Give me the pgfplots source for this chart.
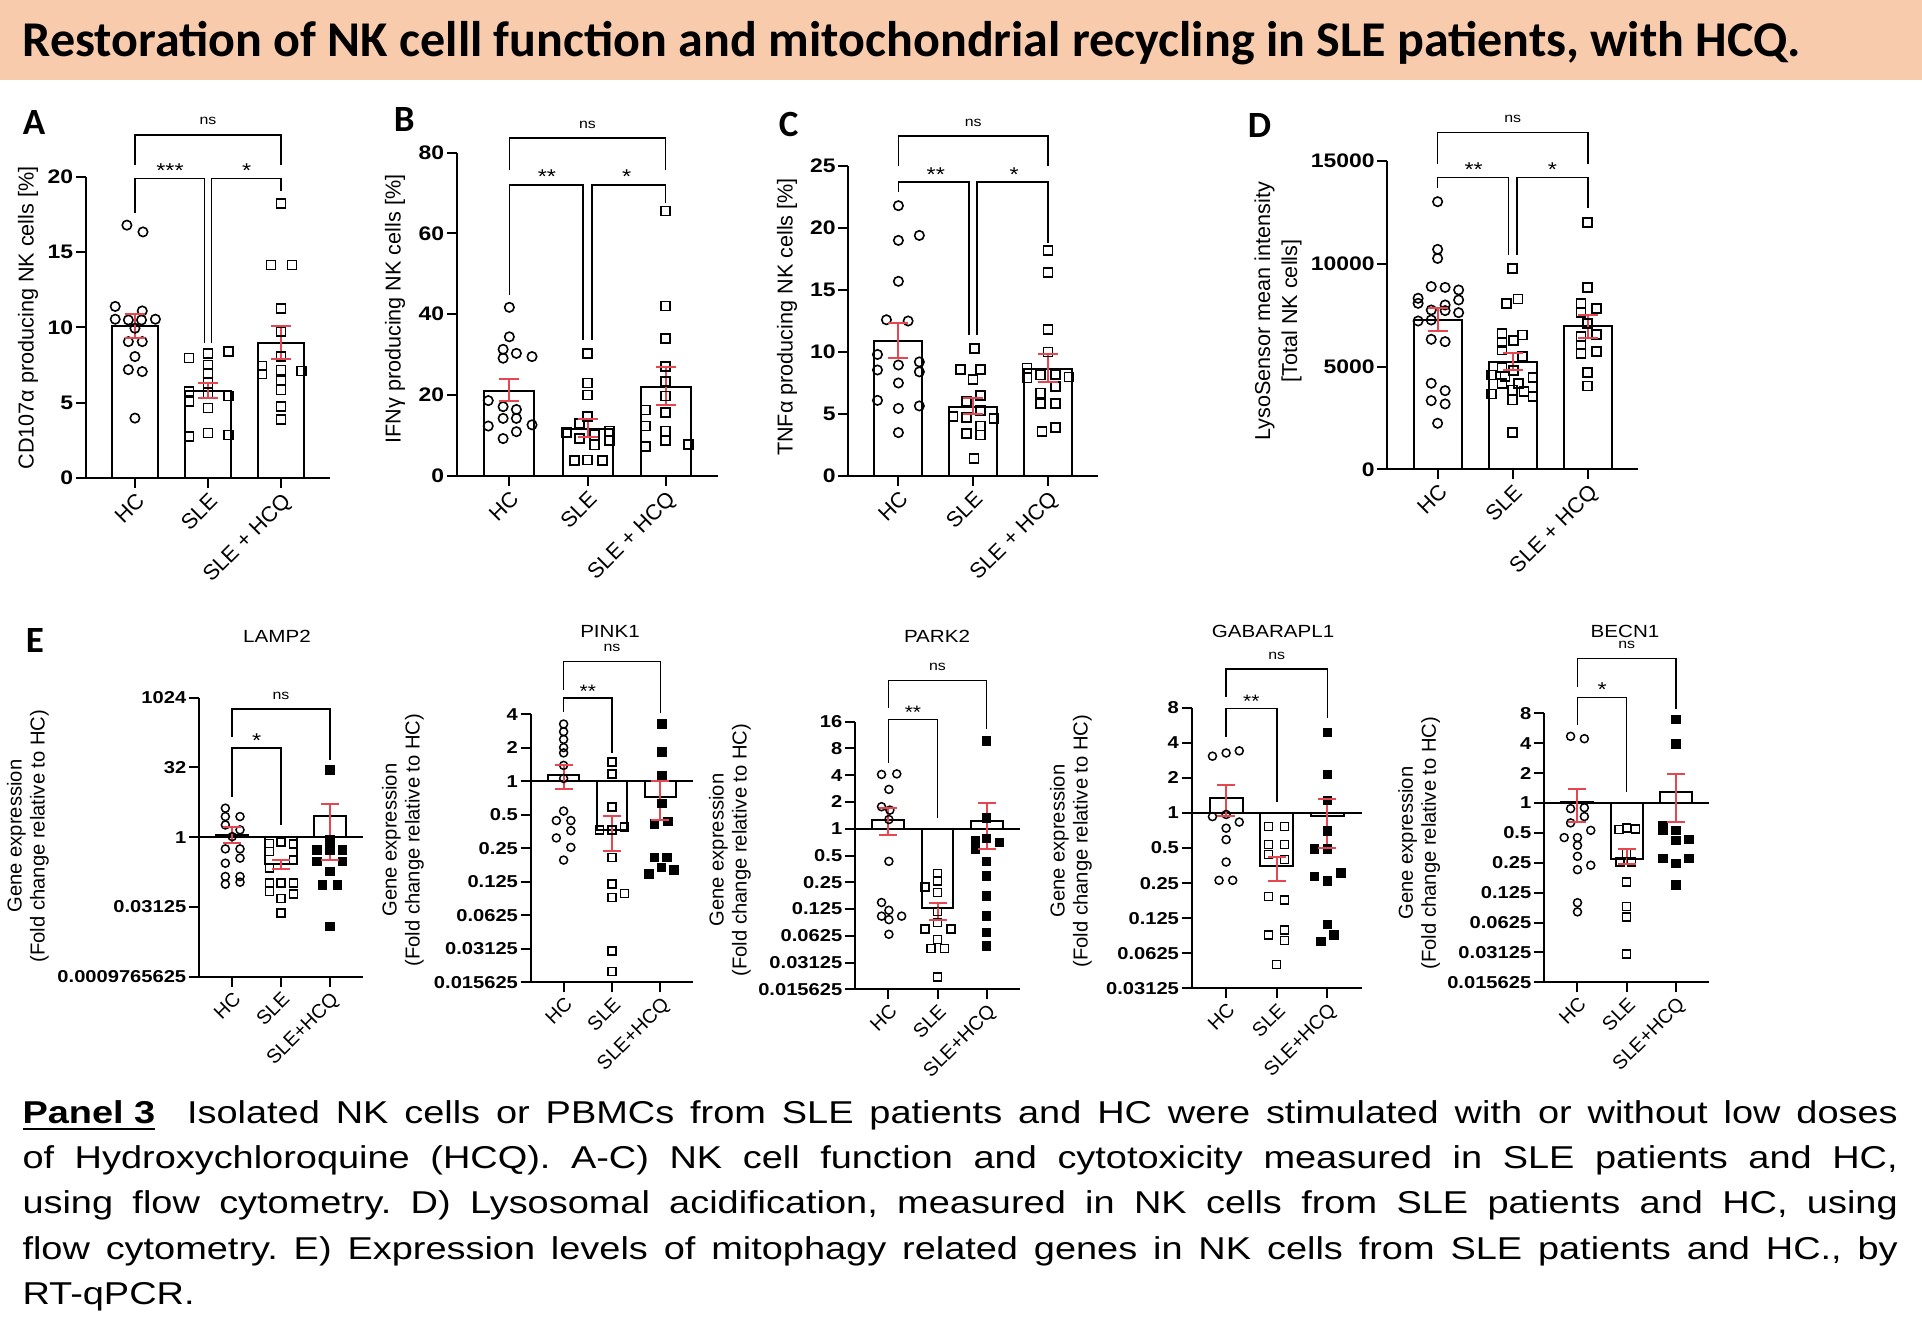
\documentclass[border=0pt]{standalone}
\usepackage{pgfplots}
\pgfplotsset{compat=1.18}
\usepackage{graphicx}
\usepackage{fontspec}
\setmainfont{Liberation Sans}
\newfontfamily\carlito{Carlito}
\newdimen\pp \pp=0.25pt
\definecolor{errred}{RGB}{230,70,80}
\definecolor{peach}{HTML}{F8CBAD}
\newcommand{\sx}[1]{\scalebox{1.17}[1]{#1}}

\tikzset{
  br/.style={line width=1.6\pp, black},
  stars/.style={anchor=base, inner sep=0, yshift=1\pp, font=\fontsize{5pt}{5pt}\selectfont},
  nsl/.style={anchor=base, inner sep=0, yshift=10\pp, font=\fontsize{3.4pt}{4pt}\selectfont},
  lett/.style={anchor=base west, inner sep=0, font=\carlito\bfseries\fontsize{9.25pt}{10pt}\selectfont},
}
\pgfplotsset{
  panel/.style={
    scale only axis, clip=false, anchor=south west,
    axis x line*=bottom, axis y line*=left, tick pos=left,
    axis line style={-, line width=2\pp},
    tick style={black, line width=2\pp},
    tick align=outside, major tick length=10\pp,
    scaled y ticks=false,
    xmin=-0.67, xmax=2.67, xtick={0,1,2},
    xticklabels={HC,SLE,SLE + HCQ},
    yticklabel style={font=\bfseries\fontsize{4.9pt}{5pt}\selectfont, inner sep=2\pp},
    xticklabel style={rotate=45, anchor=north east, inner sep=2\pp, font=\fontsize{5.4pt}{6pt}\selectfont},
  },
  logpanel/.style={
    panel, yminorticks=false,
    xmin=-0.68, xmax=2.68, xticklabels={HC,SLE,SLE+HCQ},
    yticklabel style={font=\bfseries\fontsize{4.3pt}{5pt}\selectfont},
    xticklabel style={font=\fontsize{4.9pt}{5pt}\selectfont},
  },
  bars/.style={ybar, bar width=0.64, bar shift=0pt, draw=black, fill=white, line width=2\pp},
  hc/.style={only marks, mark=o, mark size=4.7\pp, mark options={line width=1.6\pp, black}},
  sq/.style={only marks, mark=square, mark size=4.5\pp, mark options={line width=1.6\pp, black}},
  hce/.style={only marks, mark=o, mark size=4\pp, mark options={line width=1.5\pp, black}},
  sqe/.style={only marks, mark=square, mark size=4\pp, mark options={line width=1.5\pp, black}},
  fsq/.style={only marks, mark=square*, mark size=4\pp, mark options={black, fill=black}},
  eb/.style={errred, line width=2\pp, mark=-, mark size=10\pp, mark options={solid, line width=2\pp}},
  ebe/.style={errred, line width=2\pp, mark=-, mark size=9\pp, mark options={solid, line width=2\pp}},
}

\begin{document}
\begin{tikzpicture}
\begin{scope}[x=0.25pt, y=-0.25pt]
\fill[white] (0,0) rectangle (1922,1324);
\fill[peach] (0,0) rectangle (1922,80);
\node[anchor=base west, inner sep=0] at (22,57) {\resizebox{444.5pt}{!}{\carlito\bfseries\fontsize{12.4pt}{14pt}\selectfont Restoration of NK celll function and mitochondrial recycling in SLE patients, with HCQ.}};
\node[lett] at (22,135) {A};
\node[lett] at (393,132) {B};
\node[lett] at (778,137) {C};
\node[lett] at (1247,138) {D};
\node[lett] at (25,652) {E};
% y labels
\begin{scope}[every node/.style={rotate=90, align=center, inner sep=0, font=\fontsize{5.4pt}{6.7pt}\selectfont}]
\node at (28,318) {CD107α producing NK cells {[}\%{]}};
\node at (395,309) {IFNγ producing NK cells {[}\%{]}};
\node at (787,317) {TNFα producing NK cells {[}\%{]}};
\node at (1278,311) {LysoSensor mean intensity\\{[}Total NK cells{]}};
\end{scope}
\begin{scope}[every node/.style={rotate=90, align=center, inner sep=0, font=\fontsize{5.05pt}{5.75pt}\selectfont}]
\node at (28,836) {Gene expression\\(Fold change relative to HC)};
\node at (403,840) {Gene expression\\(Fold change relative to HC)};
\node at (730,850) {Gene expression\\(Fold change relative to HC)};
\node at (1071,841) {Gene expression\\(Fold change relative to HC)};
\node at (1419,843) {Gene expression\\(Fold change relative to HC)};
\end{scope}
\begin{scope}[every node/.style={anchor=base, inner sep=0, font=\fontsize{4.4pt}{5pt}\selectfont}]
\node at (277,642) {\sx{LAMP2}};
\node at (610,637) {\sx{PINK1}};
\node at (937,642) {\sx{PARK2}};
\node at (1273,637) {\sx{GABARAPL1}};
\node at (1625,637) {\sx{BECN1}};
\end{scope}
\node[anchor=base west, inner sep=0] at (21.7,1123) {\scalebox{1.2}[1]{\parbox[t]{390.7pt}{\fontsize{7.9pt}{11.35pt}\selectfont\frenchspacing\hyphenpenalty=10000 \underline{\textbf{Panel 3}}\ \ Isolated NK cells or PBMCs from SLE patients and HC were stimulated with or without low doses\linebreak of Hydroxychloroquine (HCQ). A-C) NK cell function and cytotoxicity measured in SLE patients and HC,\linebreak using flow cytometry. D) Lysosomal acidification, measured in NK cells from SLE patients and HC, using\linebreak flow cytometry. E) Expression levels of mitophagy related genes in NK cells from SLE patients and HC., by\linebreak RT-qPCR.}}};
\end{scope}

% ---------- A ----------
\begin{axis}[panel, at={(86\pp,-478\pp)}, width=244\pp, height=301\pp,
  ymin=0, ymax=20, ytick={0,5,10,15,20}, yticklabels={\sx{0},\sx{5},\sx{10},\sx{15},\sx{20}}]
\addplot[bars] coordinates {(0,10.1) (1,5.8) (2,9.0)};
\addplot[hc] coordinates {(-0.11,16.8) (0.11,16.35) (-0.27,11.4) (0.10,11.1) (-0.27,10.55) (-0.09,10.5) (0.09,10.5) (0.28,10.55) (0,9.95) (-0.09,9.06) (0.1,9.06) (0,8.07) (-0.09,7.2) (0.1,7.07) (0,3.98)};
\addplot[sq] coordinates {(0.74,7.96) (1,8.29) (1.28,8.4) (1,7.5) (1,6.96) (1,6.3) (0.74,5.75) (0.74,5.08) (1,5.64) (1.28,5.46) (1,4.64) (0.74,2.76) (1,2.98) (1.28,2.87)};
\addplot[sq] coordinates {(2,18.23) (1.86,14.14) (2.15,14.14) (2,11.27) (2,9.72) (2,8.07) (1.74,7.45) (1.74,6.92) (2,7.18) (2.28,7.12) (2,6.47) (2,5.86) (2,4.75) (2,3.87)};
\addplot[eb] coordinates {(0,9.3) (0,10.9)};
\addplot[eb] coordinates {(1,5.3) (1,6.3)};
\addplot[eb] coordinates {(2,7.9) (2,10.1)};
\draw[br] (axis cs:0,17.6) |- (axis cs:0.95,19.9) -- (axis cs:0.95,9);
\draw[br] (axis cs:1.05,9) |- (axis cs:2,19.9) -- (axis cs:2,19.1);
\draw[br] (axis cs:0,20.8) |- (axis cs:2,22.8) -- (axis cs:2,20.8);
\node[stars] at (axis cs:0.48,19.9) {\sx{***}};
\node[stars] at (axis cs:1.53,19.9) {\sx{*}};
\node[nsl] at (axis cs:1,22.8) {\sx{ns}};
\end{axis}

% ---------- B ----------
\begin{axis}[panel, at={(457\pp,-475.7\pp)}, width=261\pp, height=323\pp,
  ymin=0, ymax=80, ytick={0,20,40,60,80}, yticklabels={\sx{0},\sx{20},\sx{40},\sx{60},\sx{80}}]
\addplot[bars] coordinates {(0,21) (1,11.5) (2,22)};
\addplot[hc] coordinates {(0,41.7) (0,34.4) (-0.08,31.3) (-0.08,29.1) (0.09,30.3) (0.29,29.5) (-0.27,18.6) (-0.08,17.1) (0.09,16.4) (-0.08,14.2) (-0.27,12.3) (0.09,14.2) (0.29,12.6) (0.09,10.9) (-0.08,9.2)};
\addplot[sq] coordinates {(1,30.3) (1,23) (1,20) (1,14.6) (0.9,13) (0.73,10.7) (0.9,9.25) (1.09,10.1) (1.28,11.1) (1.28,8.7) (1.09,7.6) (0.83,3.7) (1,3.9) (1.19,3.7)};
\addplot[sq] coordinates {(2,65.6) (2,42) (2,34) (2,27) (2,23.3) (2,19.7) (2,15.6) (1.74,16.3) (1.74,12.3) (2,11.1) (2,8.7) (1.74,7.3) (2.29,7.8)};
\addplot[eb] coordinates {(0,18.5) (0,24)};
\addplot[eb] coordinates {(1,9.5) (1,14)};
\addplot[eb] coordinates {(2,17.5) (2,27)};
\draw[br] (axis cs:0,44.8) |- (axis cs:0.945,72) -- (axis cs:0.945,33.6);
\draw[br] (axis cs:1.055,33.6) |- (axis cs:2,72) -- (axis cs:2,67.5);
\draw[br] (axis cs:0,75.7) |- (axis cs:2,83.6) -- (axis cs:2,75.7);
\node[stars] at (axis cs:0.48,72) {\sx{**}};
\node[stars] at (axis cs:1.5,72) {\sx{*}};
\node[nsl] at (axis cs:1,83.6) {\sx{ns}};
\end{axis}

% ---------- C ----------
\begin{axis}[panel, at={(848.3\pp,-476\pp)}, width=249.7\pp, height=310\pp,
  ymin=0, ymax=25, ytick={0,5,10,15,20,25}, yticklabels={\sx{0},\sx{5},\sx{10},\sx{15},\sx{20},\sx{25}}]
\addplot[bars] coordinates {(0,10.9) (1,5.6) (2,8.6)};
\addplot[hc] coordinates {(0,21.8) (0,19) (0.28,19.4) (0,15.7) (-0.16,12.6) (0.13,12.5) (-0.28,9.8) (-0.28,8.55) (0,8.95) (0.28,9.2) (0.28,8.4) (0,7.5) (-0.28,6.1) (0,5.45) (0.28,5.65) (0,3.5)};
\addplot[sq] coordinates {(1.02,10.3) (0.83,8.6) (1.1,8.6) (1,7.8) (1.1,6.5) (0.91,6.0) (1.1,5.3) (0.73,4.8) (0.91,4.73) (1.28,4.65) (0.91,3.44) (1.1,3.3) (1.1,4.03) (1.01,1.42)};
\addplot[sq] coordinates {(2,18.2) (2,16.4) (2,11.8) (2,10) (1.72,8.7) (1.72,7.9) (1.9,8.15) (2.1,8.2) (2.28,8.0) (2.1,7.2) (1.9,6.7) (1.9,5.86) (2.1,5.86) (1.92,3.6) (2.1,3.9)};
\addplot[eb] coordinates {(0,9.5) (0,12.3)};
\addplot[eb] coordinates {(1,5.0) (1,6.3)};
\addplot[eb] coordinates {(2,7.6) (2,9.8)};
\draw[br] (axis cs:0,22.9) |- (axis cs:0.946,23.7) -- (axis cs:0.946,11.4);
\draw[br] (axis cs:1.054,11.4) |- (axis cs:2,23.7) -- (axis cs:2,18.8);
\draw[br] (axis cs:0,25.0) |- (axis cs:2,27.4) -- (axis cs:2,25.0);
\node[stars] at (axis cs:0.5,23.7) {\sx{**}};
\node[stars] at (axis cs:1.55,23.7) {\sx{*}};
\node[nsl] at (axis cs:1,27.4) {\sx{ns}};
\end{axis}

% ---------- D ----------
\begin{axis}[panel, at={(1387.3\pp,-469.3\pp)}, width=250.7\pp, height=308.3\pp,
  ymin=0, ymax=15000, ytick={0,5000,10000,15000}, yticklabels={\sx{0},\sx{5000},\sx{10000},\sx{15000}}]
\addplot[bars] coordinates {(0,7270) (1,5200) (2,6950)};
\addplot[hc] coordinates {(0,13020) (0,10700) (0,10260) (-0.26,8320) (-0.26,8075) (-0.085,8890) (0.1,8850) (0.28,8725) (0.28,8240) (0.1,7995) (-0.085,7750) (0.1,7720) (0.28,7620) (-0.26,7215) (-0.085,7265) (-0.085,6325) (0.1,6210) (-0.085,4185) (0.1,3825) (-0.085,3340) (0.1,3180) (0,2240)};
\addplot[sq] coordinates {(1,9780) (0.92,8075) (1.07,8290) (0.86,6615) (1.13,6535) (0.86,6180) (1.01,6260) (0.86,5805) (1.13,5480) (0.86,4945) (1.01,4800) (0.72,4590) (0.9,4510) (1.27,4475) (0.86,4185) (1.08,4185) (0.72,3665) (1,3860) (1.15,3780) (1.27,3535) (1,3375) (1,1785)};
\addplot[sq] coordinates {(2,12015) (2,8840) (1.91,8075) (2.12,7830) (1.91,7620) (2,7100) (1.91,6455) (2.12,6565) (1.91,6050) (1.91,5640) (2.12,5725) (2,4700) (2,4055)};
\addplot[eb] coordinates {(0,6745) (0,7830)};
\addplot[eb] coordinates {(1,4830) (1,5640)};
\addplot[eb] coordinates {(2,6370) (2,7510)};
\draw[br] (axis cs:0,13670) |- (axis cs:0.944,14200) -- (axis cs:0.944,10430);
\draw[br] (axis cs:1.056,10430) |- (axis cs:2,14200) -- (axis cs:2,12700);
\draw[br] (axis cs:0,14850) |- (axis cs:2,16380) -- (axis cs:2,14850);
\node[stars] at (axis cs:0.48,14200) {\sx{**}};
\node[stars] at (axis cs:1.53,14200) {\sx{*}};
\node[nsl] at (axis cs:1,16380) {\sx{ns}};
\end{axis}

% ---------- E1 LAMP2 ----------
\begin{axis}[logpanel, ymode=log, log basis y=2, log origin y=0,
  at={(199\pp,-976.7\pp)}, width=164\pp, height=279\pp,
  ymin=0.0009765625, ymax=1024, ytick={0.0009765625,0.03125,1,32,1024},
  yticklabels={\sx{0.0009765625},\sx{0.03125},\sx{1},\sx{32},\sx{1024}}]
\addplot[bars, bar width=0.65] coordinates {(0,1.1) (1,0.27) (2,2.8)};
\draw[line width=2\pp] (axis cs:-0.68,1) -- (axis cs:2.68,1);
\addplot[hce] coordinates {(-0.14,4.23) (-0.14,2.79) (0.16,2.79) (-0.14,1.84) (0.16,1.44) (0,1.03) (-0.14,0.56) (0.16,0.56) (0.16,0.354) (-0.14,0.275) (-0.14,0.142) (0.16,0.142) (-0.14,0.097) (0.16,0.107)};
\addplot[sqe] coordinates {(0.76,0.74) (1,0.78) (1.26,0.71) (0.76,0.49) (1.26,0.325) (0.76,0.214) (0.76,0.102) (1,0.102) (1.26,0.102) (0.76,0.067) (1.26,0.06) (1,0.048) (1,0.023)};
\addplot[fsq] coordinates {(2,28.4) (2,0.88) (1.74,0.53) (2,0.53) (2.26,0.53) (1.74,0.30) (2.26,0.30) (2,0.182) (1.85,0.094) (2.16,0.094) (2,0.0118)};
\addplot[ebe] coordinates {(0,0.74) (0,1.64)};
\addplot[ebe] coordinates {(1,0.21) (1,0.32)};
\addplot[ebe] coordinates {(2,0.32) (2,5.2)};
\draw[br] (axis cs:0,7.5) |- (axis cs:1,83) -- (axis cs:1,1.84);
\draw[br] (axis cs:0,149) |- (axis cs:2,580) -- (axis cs:2,46.5);
\node[stars] at (axis cs:0.5,83) {\sx{*}};
\node[nsl] at (axis cs:1,580) {\sx{ns}};
\end{axis}

% ---------- E2 PINK1 ----------
\begin{axis}[logpanel, ymode=log, log basis y=2, log origin y=0,
  at={(530.7\pp,-982.3\pp)}, width=162.6\pp, height=268\pp,
  ymin=0.015625, ymax=4, ytick={0.015625,0.03125,0.0625,0.125,0.25,0.5,1,2,4},
  yticklabels={\sx{0.015625},\sx{0.03125},\sx{0.0625},\sx{0.125},\sx{0.25},\sx{0.5},\sx{1},\sx{2},\sx{4}}]
\addplot[bars, bar width=0.64] coordinates {(0,1.13) (1,0.366) (2,0.73)};
\draw[line width=2\pp] (axis cs:-0.68,1) -- (axis cs:2.68,1);
\addplot[hce] coordinates {(0,3.27) (0,2.79) (0,2.38) (0,2.01) (0,1.8) (0,1.39) (0,1.06) (0,0.54) (-0.15,0.444) (0.15,0.444) (0.15,0.36) (-0.15,0.31) (0.15,0.255) (0,0.196)};
\addplot[sqe] coordinates {(1,1.49) (1,1.16) (1,0.586) (0.74,0.366) (1,0.366) (1.26,0.387) (1,0.207) (1,0.119) (1,0.090) (1.26,0.098) (1,0.0298) (1,0.0196)};
\addplot[fsq] coordinates {(2.03,3.27) (2.03,1.84) (2.03,1.13) (2.03,0.63) (1.88,0.415) (2.16,0.435) (1.88,0.207) (2.14,0.207) (1.76,0.147) (2.02,0.168) (2.28,0.159)};
\addplot[ebe] coordinates {(0,0.85) (0,1.41)};
\addplot[ebe] coordinates {(1,0.235) (1,0.49)};
\addplot[ebe] coordinates {(2,0.45) (2,1.0)};
\draw[br] (axis cs:0,4.23) |- (axis cs:1,5.58) -- (axis cs:1,1.78);
\draw[br] (axis cs:0,6.6) |- (axis cs:2,11.96) -- (axis cs:2,4.08);
\node[stars, font=\fontsize{4.5pt}{5pt}\selectfont] at (axis cs:0.5,5.58) {\sx{**}};
\node[nsl] at (axis cs:1,11.96) {\sx{ns}};
\end{axis}

% ---------- E3 PARK2 ----------
\begin{axis}[logpanel, ymode=log, log basis y=2, log origin y=0,
  at={(855\pp,-989.3\pp)}, width=165\pp, height=267.6\pp,
  ymin=0.015625, ymax=16, ytick={0.015625,0.03125,0.0625,0.125,0.25,0.5,1,2,4,8,16},
  yticklabels={\sx{0.015625},\sx{0.03125},\sx{0.0625},\sx{0.125},\sx{0.25},\sx{0.5},\sx{1},\sx{2},\sx{4},\sx{8},\sx{16}}]
\addplot[bars, bar width=0.65] coordinates {(0,1.24) (1,0.127) (2,1.22)};
\draw[line width=2\pp] (axis cs:-0.68,1) -- (axis cs:2.68,1);
\addplot[hce] coordinates {(-0.14,4.08) (0.17,4.14) (0.01,2.77) (-0.14,1.77) (0.03,1.62) (0.01,1.27) (0.01,0.43) (-0.14,0.148) (0.01,0.121) (-0.14,0.104) (0.01,0.095) (0.27,0.104) (0.01,0.065)};
\addplot[sqe] coordinates {(1,0.312) (1,0.257) (0.75,0.222) (1,0.191) (1,0.118) (1,0.088) (0.75,0.075) (1.27,0.075) (1,0.057) (0.87,0.045) (1.14,0.045) (1,0.0215)};
\addplot[fsq] coordinates {(2,9.7) (2,1.33) (1.77,0.727) (2,0.78) (1.77,0.586) (2.26,0.70) (2,0.43) (2,0.293) (2,0.175) (2,0.104) (2,0.068) (2,0.048)};
\addplot[ebe] coordinates {(0,0.86) (0,1.69)};
\addplot[ebe] coordinates {(1,0.095) (1,0.148)};
\addplot[ebe] coordinates {(2,0.585) (2,1.96)};
\draw[br] (axis cs:0,5.54) |- (axis cs:1,16.9) -- (axis cs:1,1.33);
\draw[br] (axis cs:0,22.6) |- (axis cs:2,46.5) -- (axis cs:2,13.1);
\node[stars, font=\fontsize{4.5pt}{5pt}\selectfont] at (axis cs:0.5,16.9) {\sx{**}};
\node[nsl] at (axis cs:1,46.5) {\sx{ns}};
\end{axis}

% ---------- E4 GABARAPL1 ----------
\begin{axis}[logpanel, ymode=log, log basis y=2, log origin y=0,
  at={(1191.7\pp,-988.3\pp)}, width=170\pp, height=280.6\pp,
  ymin=0.03125, ymax=8, ytick={0.03125,0.0625,0.125,0.25,0.5,1,2,4,8},
  yticklabels={\sx{0.03125},\sx{0.0625},\sx{0.125},\sx{0.25},\sx{0.5},\sx{1},\sx{2},\sx{4},\sx{8}}]
\addplot[bars, bar width=0.65] coordinates {(0,1.35) (1,0.35) (2,0.95)};
\draw[line width=2\pp] (axis cs:-0.68,1) -- (axis cs:2.68,1);
\addplot[hce] coordinates {(-0.27,3.07) (0,3.27) (0.26,3.41) (-0.27,0.93) (0,0.97) (0.26,0.835) (0,0.74) (0,0.59) (0,0.379) (-0.14,0.264) (0.13,0.264)};
\addplot[sqe] coordinates {(0.84,0.768) (1.15,0.768) (0.84,0.535) (1.15,0.535) (0.84,0.44) (1.15,0.397) (0.84,0.192) (1.15,0.179) (0.84,0.09) (1.15,0.099) (1.15,0.08) (1,0.05)};
\addplot[fsq] coordinates {(2,4.89) (2,2.14) (2,1.28) (2,0.70) (1.75,0.49) (2,0.49) (1.75,0.285) (2,0.259) (2.27,0.306) (2,0.11) (1.87,0.079) (2.13,0.09)};
\addplot[ebe] coordinates {(0,0.95) (0,1.73)};
\addplot[ebe] coordinates {(1,0.26) (1,0.42)};
\addplot[ebe] coordinates {(2,0.50) (2,1.31)};
\draw[br] (axis cs:0,4.5) |- (axis cs:1,7.9) -- (axis cs:1,1.24);
\draw[br] (axis cs:0,9.9) |- (axis cs:2,17.1) -- (axis cs:2,6.5);
\node[stars, font=\fontsize{4.5pt}{5pt}\selectfont] at (axis cs:0.5,7.9) {\sx{**}};
\node[nsl] at (axis cs:1,17.1) {\sx{ns}};
\end{axis}

% ---------- E5 BECN1 ----------
\begin{axis}[logpanel, ymode=log, log basis y=2, log origin y=0,
  at={(1544\pp,-982.3\pp)}, width=165.3\pp, height=269\pp,
  ymin=0.015625, ymax=8, ytick={0.015625,0.03125,0.0625,0.125,0.25,0.5,1,2,4,8},
  yticklabels={\sx{0.015625},\sx{0.03125},\sx{0.0625},\sx{0.125},\sx{0.25},\sx{0.5},\sx{1},\sx{2},\sx{4},\sx{8}}]
\addplot[bars, bar width=0.65] coordinates {(0,1.02) (1,0.275) (2,1.29)};
\draw[line width=2\pp] (axis cs:-0.68,1) -- (axis cs:2.68,1);
\addplot[hce] coordinates {(-0.14,4.69) (0.14,4.44) (-0.14,0.877) (0.14,0.896) (0.14,0.73) (-0.14,0.63) (-0.27,0.448) (0,0.448) (0.27,0.53) (0,0.374) (0,0.29) (0,0.213) (0.27,0.236) (0,0.099) (0,0.08)};
\addplot[sqe] coordinates {(0.84,0.54) (1,0.56) (1.18,0.547) (1,0.31) (0.86,0.255) (1.1,0.255) (1,0.16) (1,0.091) (1,0.071) (1,0.03)};
\addplot[fsq] coordinates {(2,6.96) (2,3.95) (1.74,0.586) (1.74,0.53) (2,0.53) (2,0.42) (2.27,0.427) (1.74,0.275) (2,0.245) (2.27,0.275) (2,0.149)};
\addplot[ebe] coordinates {(0,0.64) (0,1.39)};
\addplot[ebe] coordinates {(1,0.245) (1,0.34)};
\addplot[ebe] coordinates {(2,0.64) (2,1.94)};
\draw[br] (axis cs:0,6.1) |- (axis cs:1,11.5) -- (axis cs:1,1.29);
\draw[br] (axis cs:0,14.7) |- (axis cs:2,28.4) -- (axis cs:2,8.9);
\node[stars] at (axis cs:0.5,11.5) {\sx{*}};
\node[nsl] at (axis cs:1,28.4) {\sx{ns}};
\end{axis}

\pgfresetboundingbox
\path[use as bounding box] (0,0) rectangle (1922\pp,-1324\pp);
\end{tikzpicture}
\end{document}
